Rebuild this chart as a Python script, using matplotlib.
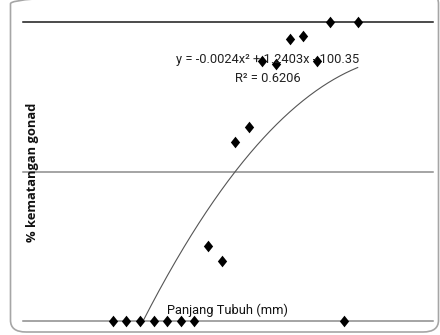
import numpy as np
import matplotlib
matplotlib.use("Agg")
import matplotlib.pyplot as plt
from matplotlib.patches import FancyBboxPatch

# Body length (mm) and % gonad maturity
panjang = [45, 55, 65, 75, 85, 95, 105, 115, 125, 135, 145, 155, 165, 175, 185, 195, 205, 215, 225]
kematangan = [0, 0, 0, 0, 0, 0, 0, 25, 20, 60, 65, 87, 86, 94.5, 95.3, 87, 100, 0, 100]

# Polynomial trend (coefficients a, b, c for y = a x^2 + b x + c)
trend_coef = [-0.00223, 1.19, -70.0]
eq_label = "y = -0.0024x² + 1.2403x - 100.35"
r2_label = "R² = 0.6206"
xlabel = "Panjang Tubuh (mm)"
ylabel = "% kematangan gonad"
y_grid = [0, 50, 100]

fig = plt.figure(figsize=(4.4, 3.35), dpi=100)
fig.patch.set_facecolor("white")

# rounded border
box = FancyBboxPatch((10.5 / 440, 3.0 / 335), 428 / 440, 340 / 335,
                     boxstyle="round,pad=0,rounding_size=0.035",
                     transform=fig.transFigure, fill=False,
                     edgecolor="#a6a6a6", linewidth=1.2, clip_on=False)
fig.patches.append(box)

ax = fig.add_axes([22.7 / 440, 1 - 321 / 335, (432.7 - 22.7) / 440, (321 - 22.3) / 335])
ax.set_xlim(-21.1, 280.1)
ax.set_ylim(0, 100)
for s in ax.spines.values():
    s.set_visible(False)
ax.set_xticks([])
ax.set_yticks([])

for g in y_grid:
    col = "#1a1a1a" if g == max(y_grid) else "#8c8c8c"
    ax.axhline(g, color=col, linewidth=1.1, zorder=1, clip_on=False)

xs = np.linspace(min(panjang), max(panjang), 300)
ys = np.polyval(trend_coef, xs)
ax.plot(xs, ys, color="#555555", linewidth=0.8, zorder=2)

diamond = [(0, 1), (0.8, 0), (0, -1), (-0.8, 0), (0, 1)]
ax.scatter(panjang, kematangan, marker=diamond, s=70, color="black",
           zorder=3, clip_on=False, linewidths=0)

fnt = ["Roboto", "DejaVu Sans"]
fig.text(268 / 440, 1 - 60 / 335, eq_label, ha="center", va="center",
         fontsize=9.3, color="#222222", family=fnt)
fig.text(268 / 440, 1 - 78 / 335, r2_label, ha="center", va="center",
         fontsize=9.3, color="#222222", family=fnt)
fig.text(227.5 / 440, 1 - 310 / 335, xlabel, ha="center", va="center",
         fontsize=9.3, color="#111111", family=fnt)
fig.text(33 / 440, 1 - 172.5 / 335, ylabel, ha="center", va="center",
         rotation=90, fontsize=9.3, fontweight="bold", color="#111111",
         family=["Open Sans", "DejaVu Sans"])

fig.savefig("out.png", dpi=100)
